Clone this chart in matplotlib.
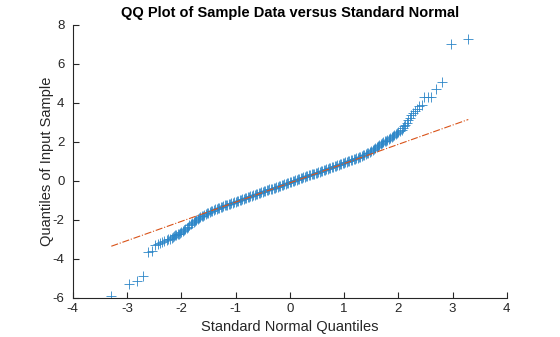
import matplotlib
matplotlib.use("Agg")
import matplotlib.pyplot as plt

plt.rcParams['font.family'] = ['Liberation Sans', 'DejaVu Sans']
plt.rcParams['axes.unicode_minus'] = False

# lower tail (standard normal quantile, sample quantile)
low_x = [-3.29, -2.97, -2.81, -2.70, -2.61, -2.54, -2.48, -2.43, -2.39, -2.35,
         -2.31, -2.27, -2.24, -2.21, -2.18, -2.16, -2.13, -2.11, -2.09, -2.06]
low_y = [-5.88, -5.30, -5.13, -4.87, -3.62, -3.57, -3.30, -3.22, -3.17, -3.12,
         -3.08, -3.04, -3.00, -2.96, -2.91, -2.87, -2.83, -2.79, -2.75, -2.71]

# central band
mid_x = [-2.050, -2.025, -2.000, -1.975, -1.950, -1.925, -1.900, -1.875, -1.850, -1.825,
         -1.800, -1.775, -1.750, -1.725, -1.700, -1.675, -1.650, -1.625, -1.600, -1.575,
         -1.550, -1.525, -1.500, -1.475, -1.450, -1.425, -1.400, -1.375, -1.350, -1.325,
         -1.300, -1.275, -1.250, -1.225, -1.200, -1.175, -1.150, -1.125, -1.100, -1.075,
         -1.050, -1.025, -1.000, -0.975, -0.950, -0.925, -0.900, -0.875, -0.850, -0.825,
         -0.800, -0.775, -0.750, -0.725, -0.700, -0.675, -0.650, -0.625, -0.600, -0.575,
         -0.550, -0.525, -0.500, -0.475, -0.450, -0.425, -0.400, -0.375, -0.350, -0.325,
         -0.300, -0.275, -0.250, -0.225, -0.200, -0.175, -0.150, -0.125, -0.100, -0.075,
         -0.050, -0.025, 0.000, 0.025, 0.050, 0.075, 0.100, 0.125, 0.150, 0.175,
         0.200, 0.225, 0.250, 0.275, 0.300, 0.325, 0.350, 0.375, 0.400, 0.425,
         0.450, 0.475, 0.500, 0.525, 0.550, 0.575, 0.600, 0.625, 0.650, 0.675,
         0.700, 0.725, 0.750, 0.775, 0.800, 0.825, 0.850, 0.875, 0.900, 0.925,
         0.950, 0.975, 1.000, 1.025, 1.050, 1.075, 1.100, 1.125, 1.150, 1.175,
         1.200, 1.225, 1.250, 1.275, 1.300, 1.325, 1.350, 1.375, 1.400, 1.425,
         1.450, 1.475, 1.500, 1.525, 1.550, 1.575, 1.600, 1.625, 1.650, 1.675,
         1.700, 1.725, 1.750, 1.775, 1.800, 1.825, 1.850, 1.875, 1.900, 1.925,
         1.950, 1.975, 2.000, 2.025]
mid_y = [-2.70, -2.65, -2.60, -2.55, -2.50, -2.45, -2.40, -2.34, -2.28, -2.22,
         -2.17, -2.11, -2.06, -2.01, -1.96, -1.91, -1.86, -1.82, -1.78, -1.74,
         -1.70, -1.66, -1.63, -1.59, -1.55, -1.52, -1.49, -1.46, -1.43, -1.40,
         -1.37, -1.35, -1.32, -1.29, -1.26, -1.24, -1.21, -1.19, -1.16, -1.14,
         -1.11, -1.09, -1.06, -1.04, -1.01, -0.99, -0.96, -0.94, -0.91, -0.89,
         -0.86, -0.84, -0.81, -0.79, -0.76, -0.74, -0.71, -0.69, -0.66, -0.64,
         -0.61, -0.59, -0.56, -0.54, -0.51, -0.49, -0.46, -0.44, -0.41, -0.39,
         -0.36, -0.34, -0.31, -0.29, -0.26, -0.24, -0.21, -0.19, -0.16, -0.14,
         -0.11, -0.09, -0.07, -0.04, -0.02, 0.01, 0.03, 0.06, 0.08, 0.11,
         0.13, 0.16, 0.18, 0.21, 0.23, 0.26, 0.28, 0.31, 0.33, 0.36,
         0.38, 0.41, 0.43, 0.46, 0.48, 0.51, 0.53, 0.56, 0.58, 0.61,
         0.63, 0.66, 0.68, 0.71, 0.73, 0.76, 0.78, 0.81, 0.83, 0.86,
         0.88, 0.91, 0.93, 0.96, 0.98, 1.01, 1.03, 1.06, 1.08, 1.11,
         1.13, 1.16, 1.19, 1.22, 1.25, 1.28, 1.31, 1.34, 1.38, 1.41,
         1.45, 1.49, 1.53, 1.57, 1.62, 1.67, 1.72, 1.77, 1.83, 1.88,
         1.93, 1.98, 2.03, 2.07, 2.12, 2.16, 2.20, 2.25, 2.30, 2.35,
         2.40, 2.45, 2.50, 2.55]

# upper tail
up_x = [2.06, 2.09, 2.11, 2.13, 2.16, 2.18, 2.21, 2.24, 2.27, 2.31,
        2.35, 2.39, 2.43, 2.48, 2.54, 2.61, 2.70, 2.81, 2.97, 3.29]
up_y = [2.62, 2.72, 2.80, 2.88, 2.98, 3.10, 3.25, 3.36, 3.48, 3.60,
        3.70, 3.82, 3.90, 4.28, 4.30, 4.32, 4.70, 5.09, 7.01, 7.27]

# reference line through the quartiles
ref_x = [-3.29, 3.29]
ref_y = [-3.35, 3.15]

qx = low_x + mid_x + up_x
qy = low_y + mid_y + up_y

fig = plt.figure(figsize=(5.6, 3.37), dpi=100)
ax = fig.add_axes([0.13, 0.116, 0.775, 0.81])

ax.plot(qx, qy, '+', color='#2C86C8', markersize=7.5, markeredgewidth=0.6)
ax.plot(ref_x, ref_y, '-.', color='#D95319', linewidth=0.8)

ax.set_xlim(-4, 4)
ax.set_ylim(-6, 8)
ax.set_xticks(range(-4, 5))
ax.set_yticks(range(-6, 9, 2))

ax.set_title("QQ Plot of Sample Data versus Standard Normal",
             fontsize=10.5, fontweight='bold', color='black', pad=6)
ax.set_xlabel("Standard Normal Quantiles", fontsize=10.5, color='#262626', labelpad=3)
ax.set_ylabel("Quantiles of Input Sample", fontsize=10.5, color='#262626', labelpad=-1)

for s in ['top', 'right']:
    ax.spines[s].set_visible(False)
for s in ['left', 'bottom']:
    ax.spines[s].set_color('#262626')
    ax.spines[s].set_linewidth(0.8)
ax.tick_params(direction='in', length=4, width=0.8, colors='#262626', labelsize=9.5)
ax.tick_params(axis='x', pad=4)
ax.tick_params(axis='y', pad=6)

fig.savefig("out.png", dpi=100)
